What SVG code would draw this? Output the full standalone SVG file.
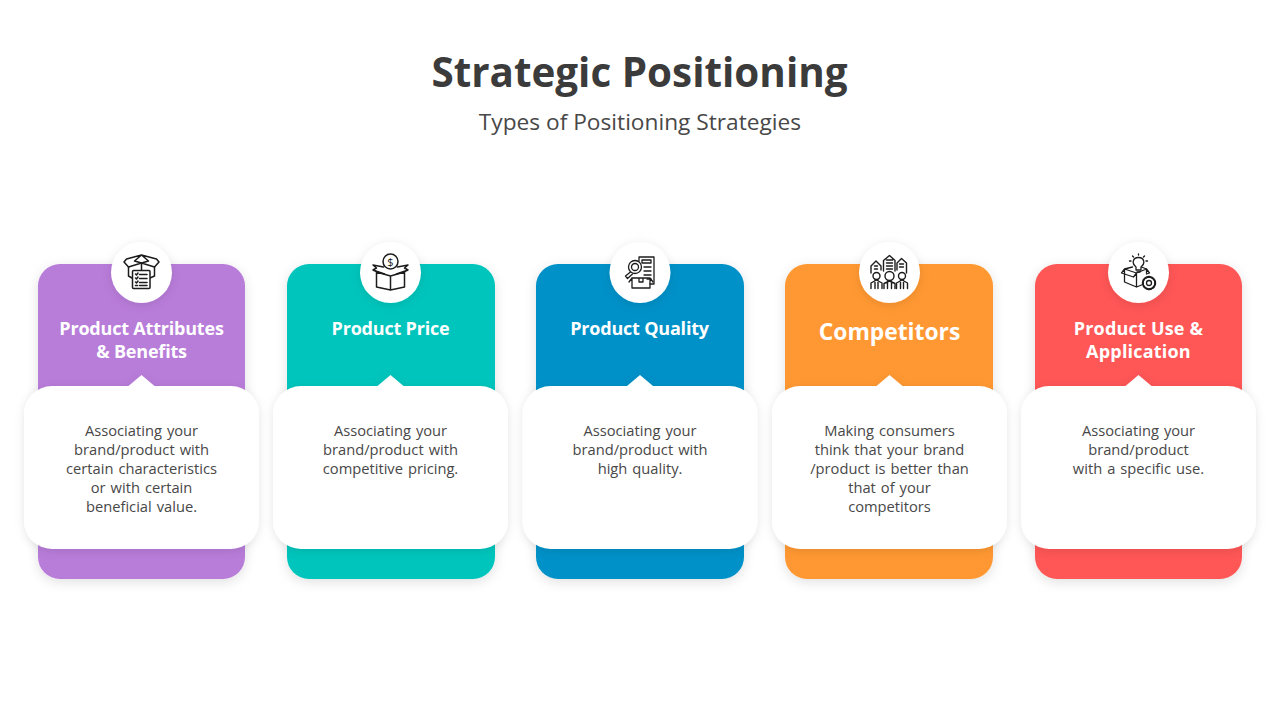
<svg xmlns="http://www.w3.org/2000/svg" width="1280" height="720" viewBox="0 0 1280 720">
<style>
text{font-family:"Open Sans","Noto Sans","Liberation Sans",sans-serif;text-anchor:middle}
.title{font-size:40.400px;font-weight:700;fill:#3b3b3b}
.sub{font-size:22.700px;fill:#484848}
.head{font-size:18px;font-weight:700;fill:#fff;letter-spacing:-.2px}
.wide{letter-spacing:.2px}
.big{font-size:22.800px;letter-spacing:0}
.body{font-size:14.700px;fill:#484848;word-spacing:1.200px}
.i{fill:none;stroke:#1c1c1c;stroke-width:1.500;stroke-linejoin:round;stroke-linecap:round}
.w{fill:#fff}
.card{filter:url(#s1)}
.panel{fill:#fff;filter:url(#s2)}
.disc{fill:#fff;filter:url(#s2)}
</style>
<defs>
<filter id="s1" x="-20%" y="-20%" width="140%" height="140%"><feDropShadow dx="0" dy="3" stdDeviation="6" flood-color="#000" flood-opacity=".12"/></filter>
<filter id="s2" x="-20%" y="-20%" width="140%" height="140%"><feDropShadow dx="0" dy="2" stdDeviation="5" flood-color="#000" flood-opacity=".1"/></filter>
<path id="panel" d="M-89.500 122H-13L0 111L13 122H89.500A28 28 0 0 1 117.500 150V257A28 28 0 0 1 89.500 285H-89.500A28 28 0 0 1 -117.500 257V150A28 28 0 0 1 -89.500 122Z"/>
</defs>

<text class="title" x="639.500" y="87">Strategic Positioning</text>
<text class="sub" x="640" y="130">Types of Positioning Strategies</text>

<g id="node-attributes" transform="translate(141.500 264)">
<rect class="card" x="-103.500" y="0" width="207" height="315" rx="22" fill="#b87bd9"/>
<use href="#panel" class="panel"/>
<circle class="disc" cx="0" cy="8.500" r="30.500"/>
<g class="i">
<path d="M0 -9L-15 -5L-17.500 -2L-13 3L0 -1L13 3L17.500 -2L15 -5L0 -9L-7 -3L0 -1L7 -3L0 -9"/>
<path d="M-13 3V12L-9.500 14M13 3V12L8.500 14M0 -1V7"/>
<rect class="w" x="-9" y="6.500" width="17.500" height="18" rx="1"/>
<path d="M-6 10l1 1l1.500-2M-2 10.500H5.500M-6 14l1 1l1.500-2M-2 14.500H5.500M-6 18l1 1l1.500-2M-2 18.500H5.500M-6 21.500H-4M-2 21.500H5.500"/>
</g>
<text class="head" x="0" y="71">Product Attributes</text>
<text class="head" x="0" y="94">&amp; Benefits</text>
<text class="body" x="0" y="172">Associating your</text>
<text class="body" x="0" y="191">brand/product with</text>
<text class="body" x="0" y="210">certain characteristics</text>
<text class="body" x="0" y="229">or with certain</text>
<text class="body" x="0" y="248">beneficial value.</text>
</g>

<g id="node-price" transform="translate(390.500 264)">
<rect class="card" x="-103.500" y="0" width="208" height="315" rx="22" fill="#00c5bc"/>
<use href="#panel" class="panel"/>
<circle class="disc" cx="0" cy="8.500" r="30.500"/>
<g class="i">
<circle cx="0" cy="-2.500" r="7.500"/>
<text x="0" y="1.500" style="font-size:11px;fill:#1c1c1c;stroke:none;font-weight:400;word-spacing:0">$</text>
<path d="M-14 8V23L0 26L14 23V8M0 12V26M-14 8L0 12L14 8"/>
<path d="M-7 3L-17.500 1L-14 4L-17.500 6L-13 8M7 3L17.500 1L14 4L17.500 6L13 8M-17.500 6L-6 10M17.500 6L6 10"/>
</g>
<text class="head" x="0" y="71">Product Price</text>
<text class="body" x="0" y="172">Associating your</text>
<text class="body" x="0" y="191">brand/product with</text>
<text class="body" x="0" y="210">competitive pricing.</text>
</g>

<g id="node-quality" transform="translate(640 264)">
<rect class="card" x="-104" y="0" width="208" height="315" rx="22" fill="#0091c8"/>
<use href="#panel" class="panel"/>
<circle class="disc" cx="0" cy="8.500" r="30.500"/>
<g class="i" style="stroke-width:1.300">
<path d="M-1 -3V-7H14V20H10"/>
<path d="M2 -4H11V-1H2ZM4 3H11M4 7H11M4 11H11M7 15H11"/>
<circle class="w" cx="-5" cy="3" r="6.500"/>
<circle cx="-5" cy="3" r="3.500"/>
<path d="M-9.500 8L-14.500 12L-12.500 14.500L-7.500 10"/>
<path d="M-8 14V24H10V14M-8 14L-11 18M-8 14H10L13 18M-1 14V18H3V14"/>
</g>
<text class="head" x="-.5" y="71">Product Quality</text>
<text class="body" x="0" y="172">Associating your</text>
<text class="body" x="0" y="191">brand/product with</text>
<text class="body" x="0" y="210">high quality.</text>
</g>

<g id="node-competitors" transform="translate(889.500 264)">
<rect class="card" x="-104.500" y="0" width="208" height="315" rx="22" fill="#ff9830"/>
<use href="#panel" class="panel"/>
<circle class="disc" cx="0" cy="8.500" r="30.500"/>
<g class="i" style="stroke-width:1.400">
<path d="M-18.500 9V2L-13.500 -3L-8.500 2V6M-15 2H-12M-15 5H-12"/>
<path d="M-6 7V-3.500L0 -8.500L5.500 -3.500V7M-3 -4H3M-3 -1H3M-3 2H3M-3 5H3"/>
<path d="M7.500 6V-1L12 -5.500L17 -1V9M10 0H14M10 3H14"/>
<circle class="w" cx="-13" cy="12" r="3.500"/><path d="M-18.500 24.500V19L-13 16L-7.500 19V24.500M-14.500 16V24.500M-11.500 16V24.500"/>
<circle class="w" cx="0" cy="12" r="4.500"/><path d="M-5.500 24.500V19.500L0 17L5.500 19.500V24.500M-2 17.500V24.500M2 17.500V24.500"/>
<circle class="w" cx="12.500" cy="12" r="3.500"/><path d="M7 24.500V19L12.500 16L18 19V24.500M11 16V24.500M14 16V24.500"/>
</g>
<text class="head big" x="0" y="76">Competitors</text>
<text class="body" x="0" y="172">Making consumers</text>
<text class="body" x="0" y="191">think that your brand</text>
<text class="body" x="0" y="210">/product is better than</text>
<text class="body" x="0" y="229">that of your</text>
<text class="body" x="0" y="248">competitors</text>
</g>

<g id="node-use" transform="translate(1138.500 264)">
<rect class="card" x="-103.500" y="0" width="207" height="315" rx="22" fill="#ff5757"/>
<use href="#panel" class="panel"/>
<circle class="disc" cx="0" cy="8.500" r="30.500"/>
<g class="i" style="stroke-width:1.300">
<path d="M-2.500 6V3C-7 0 -6 -6.500 0 -6.500S7 0 2.500 3V6ZM-1.500 8H1.500M-9 -3H-7.500M7.500 -3H9M-6 -8L-5 -7M6 -8L5 -7M0 -10V-9"/>
<path d="M-14 5V18L-2 23L3 21M-14 5L-2 9V23M-2 9L8 5V9M-14 5L-17 9L-5 13L-2 9M8 5L11 9L8 10M-14 5L-6 3M8 5L3 3"/>
<circle class="w" cx="10.500" cy="19" r="6"/><circle cx="10.500" cy="19" r="2.500"/>
<circle cx="10.500" cy="19" r="6.200" stroke-dasharray="2 1.500" stroke-width="2"/>
</g>
<text class="head wide" x="0" y="71">Product Use &amp;</text>
<text class="head wide" x="0" y="94">Application</text>
<text class="body" x="0" y="172">Associating your</text>
<text class="body" x="0" y="191">brand/product</text>
<text class="body" x="0" y="210">with a specific use.</text>
</g>
</svg>
